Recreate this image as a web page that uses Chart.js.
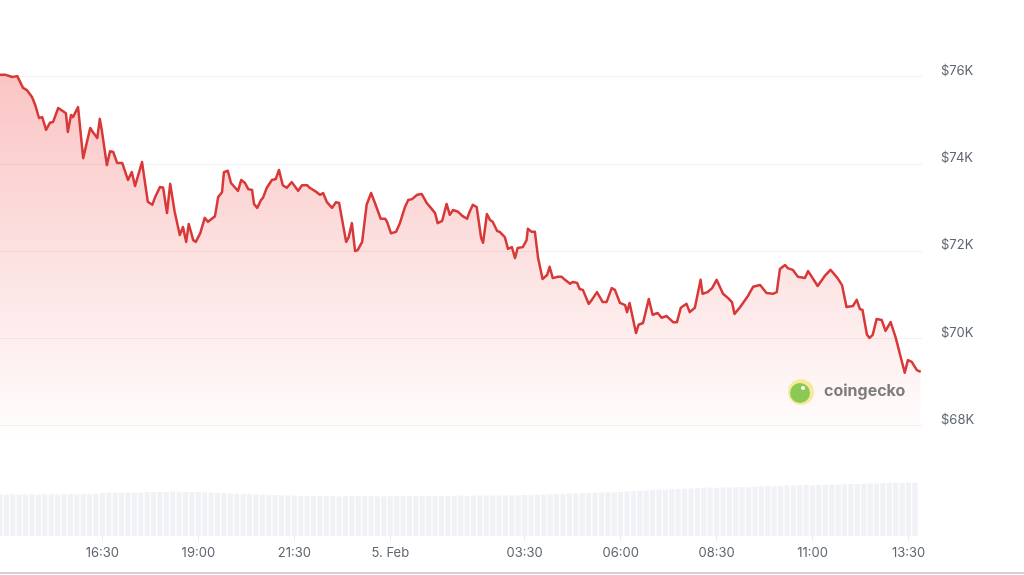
<!DOCTYPE html>
<html>
<head>
<meta charset="utf-8">
<script src="https://cdn.jsdelivr.net/npm/chart.js@4.4.1/dist/chart.umd.min.js"></script>
<style>
  html, body { margin: 0; padding: 0; background: #fff; }
  #wrap { position: relative; width: 1024px; height: 575px; }
  #edge { position: absolute; left: 0; top: 572px; width: 1024px; height: 2px; background: #d2d2d2; }
</style>
</head>
<body>
<div id="wrap">
  <canvas id="myChart" width="1024" height="575"></canvas>
  <div id="edge"></div>
</div>
<script>
// minuti dall'inizio (13:50 del 4 feb) e prezzo BTC in USD
const priceMinutes = [
  0, 9, 19, 27, 36, 42, 50, 55, 61, 66, 72, 78, 83, 91, 98, 103, 106, 111, 114, 122,
  130, 141, 145, 152, 156, 159, 167, 172, 177, 183, 191, 200, 206, 211, 222, 231, 238,
  242, 250, 255, 261, 266, 273, 281, 286, 291, 295, 302, 306, 313, 320, 325, 336, 341,
  347, 350, 356, 361, 372, 377, 383, 388, 394, 397, 402, 408, 411, 417, 425, 431, 436,
  442, 448, 456, 466, 472, 480,
  484, 495, 500, 505, 511, 519, 525, 530, 541, 545, 550, 555, 559, 566, 573, 580, 586,
  595, 602, 605, 611, 619, 625, 633, 638, 644, 652, 659, 667, 675, 680, 684, 691, 698,
  703, 708, 716, 723, 730, 734,
  739, 745, 752, 755, 761, 766, 770, 777, 781, 789, 794, 800, 805, 809, 817, 823, 825,
  831, 836, 841, 848, 855, 859, 864, 872, 878, 883, 891, 895, 902, 906, 911, 920, 925,
  933, 942, 948, 956, 961, 969,
  977, 980, 984, 994, 998, 1005, 1014, 1020, 1028, 1034, 1042, 1052, 1058, 1064, 1073,
  1078, 1086, 1095, 1098, 1106, 1113, 1120, 1130, 1138, 1144, 1148, 1156, 1169, 1177,
  1188, 1198, 1208, 1214, 1219,
  1227, 1231, 1239, 1247, 1258, 1263, 1278, 1289, 1298, 1309, 1316, 1323, 1333, 1339,
  1344, 1348, 1355, 1359, 1364, 1370, 1378, 1384, 1392, 1400, 1414, 1419, 1425, 1433, 1439
];
const prices = [
  76050, 76050, 76000, 76020, 75750, 75700, 75540, 75360, 75060, 75080, 74790, 74950, 74970, 75290, 75220, 75170, 74740, 75130, 75080, 75310,
  74140, 74830, 74740, 74600, 75040, 74790, 73980, 74300, 74280, 74030, 74030, 73640, 73820, 73500, 74050, 73140, 73070,
  73230, 73480, 73460, 72880, 73550, 72910, 72380, 72560, 72220, 72630, 72260, 72220, 72420, 72770, 72680, 72810, 73250,
  73360, 73820, 73850, 73570, 73390, 73640, 73570, 73430, 73410, 73090, 73000, 73180, 73230, 73460, 73640, 73660, 73870,
  73520, 73460, 73590, 73390, 73520, 73520,
  73460, 73360, 73300, 73340, 73130, 73000, 73130, 73110, 72220, 72330, 72650, 72010, 72030, 72220, 73070, 73340, 73110,
  72750, 72750, 72680, 72420, 72450, 72650, 73020, 73180, 73200, 73300, 73320, 73110, 72970, 72880, 72650, 72700, 73090,
  72840, 72950, 72910, 72810, 72750, 72910,
  73070, 73020, 72310, 72200, 72860, 72720, 72680, 72470, 72450, 72330, 72060, 72100, 71850, 72080, 72100, 72260, 72520,
  72450, 72450, 71850, 71370, 71460, 71650, 71390, 71420, 71420, 71350, 71260, 71300, 71280, 71140, 71120, 70800, 70890,
  71070, 70840, 70840, 71160, 71120, 70820,
  70770, 70610, 70820, 70130, 70320, 70360, 70910, 70550, 70590, 70480, 70520, 70380, 70380, 70710, 70800,
  70610, 70710, 71350, 71030, 71070, 71160, 71350, 71030, 70930, 70840, 70570, 70710, 70980, 71190,
  71230, 71050, 71030, 71070, 71600,
  71690, 71620, 71580, 71420, 71390, 71550, 71210, 71440, 71580, 71390, 71230, 70730, 70750, 70890,
  70680, 70660, 70090, 70020, 70090, 70450, 70430, 70180, 70380, 70020, 69220, 69510, 69470, 69280, 69240
];

// volume 24h (miliardi USD), una barra ogni 10 minuti
const volumes = [
  41.2, 41.0, 41.3, 41.1, 41.4, 41.2, 41.0, 41.3, 41.5, 41.2, 41.4, 41.6, 41.3, 41.5, 41.8, 42.0,
  42.6, 43.0, 42.8, 43.1, 43.3, 43.0, 43.2, 43.5, 43.8, 44.0, 43.7, 44.1, 44.0, 43.8, 43.6, 43.9, 43.4, 43.0, 42.8, 42.5,
  42.3, 42.0, 41.8, 41.6, 41.2, 41.0, 40.8, 40.6, 40.3, 40.1, 40.0,
  39.8, 39.6, 39.5, 39.7, 39.4, 39.5, 39.3, 39.6, 39.4, 39.5, 39.7, 39.6, 39.4, 39.3, 39.5, 39.6, 39.8,
  39.7, 39.5, 39.6, 39.9, 39.8, 40.0, 39.7, 39.9, 40.1, 39.8, 40.0, 40.2, 39.9, 40.1, 40.0, 40.3, 40.1,
  40.4, 40.6, 40.5, 40.9, 41.2, 41.4, 41.7,
  42.0, 42.3, 42.1, 42.5, 42.7, 42.9,
  43.2, 43.5, 43.3, 43.8, 44.2, 44.6, 45.0, 45.3,
  45.8, 46.1, 45.9, 46.3, 46.6, 46.9, 47.2, 47.5,
  47.8, 48.1, 47.9, 48.3, 48.0, 48.4, 48.7, 48.5, 49.0,
  49.3, 49.6, 49.4, 49.9, 50.2, 50.0, 50.4, 50.6, 50.3, 50.8, 51.0,
  51.2, 51.0, 51.4, 51.7, 51.5, 51.9, 52.2, 52.0,
  52.5, 52.8, 53.0, 52.7, 53.2, 53.0
];
const volumeStep = 10;

// etichette asse X
const tickMinutes = [160, 310, 460, 610, 820, 970, 1120, 1270, 1420];
const tickLabels = ['16:30', '19:00', '21:30', '5. Feb', '03:30', '06:00', '08:30', '11:00', '13:30'];
// etichette asse Y
const priceTicks = [68000, 70000, 72000, 74000, 76000];

const RED = '#d93838';
const FONT = "Inter, 'Noto Sans', sans-serif";

/* azzera i padding automatici delle scale */
function noPadding(s) {
  s.paddingLeft = 0; s.paddingRight = 0; s.paddingTop = 0; s.paddingBottom = 0;
}

/* watermark coingecko */
const watermark = {
  id: 'watermark',
  afterDatasetsDraw(chart) {
    const c = chart.ctx;
    c.save();
    c.fillStyle = 'rgba(246, 232, 140, 0.85)';
    c.beginPath(); c.arc(801, 392, 13, 0, Math.PI * 2); c.fill();
    c.fillStyle = '#8bc955';
    c.beginPath(); c.arc(800, 393, 10, 0, Math.PI * 2); c.fill();
    c.fillStyle = '#fff';
    c.beginPath(); c.arc(803, 388, 2, 0, Math.PI * 2); c.fill();
    c.fillStyle = '#7c7c7c';
    c.font = "bold 16px " + FONT;
    c.textBaseline = 'middle';
    c.fillText('coingecko', 824, 391);
    c.restore();
  }
};

const ctx = document.getElementById('myChart');

Chart.defaults.font.family = FONT;
Chart.defaults.font.size = 13;
Chart.defaults.color = '#5f6670';

new Chart(ctx, {
  type: 'line',
  data: {
    datasets: [{
      type: 'line',
      data: priceMinutes.map((t, i) => ({ x: t, y: prices[i] })),
      borderColor: RED,
      borderWidth: 2.5,
      borderJoinStyle: 'round',
      pointRadius: 0,
      tension: 0,
      fill: 'start',
      backgroundColor: (context) => {
        const g = context.chart.ctx.createLinearGradient(0, 60, 0, 445);
        g.addColorStop(0, 'rgba(240, 70, 70, 0.33)');
        g.addColorStop(1, 'rgba(240, 70, 70, 0)');
        return g;
      },
      yAxisID: 'y',
      order: 0
    }, {
      type: 'bar',
      data: volumes.map((v, i) => ({ x: i * volumeStep, y: v })),
      backgroundColor: '#f0f2f6',
      barThickness: 4.6,
      yAxisID: 'yv',
      order: 1
    }]
  },
  plugins: [watermark],
  options: {
    responsive: false,
    animation: false,
    layout: { padding: 0 },
    plugins: { legend: { display: false }, tooltip: { enabled: false } },
    scales: {
      x: {
        type: 'linear',
        offset: false,
        min: 0,
        max: 1441,
        afterBuildTicks: (s) => { s.ticks = tickMinutes.map(v => ({ value: v })); },
        afterFit: (s) => { s.height = 39; noPadding(s); },
        ticks: {
          autoSkip: false,
          maxRotation: 0,
          padding: 4,
          color: '#5f6670',
          callback: (v) => tickLabels[tickMinutes.indexOf(v)]
        },
        grid: { offset: false, drawOnChartArea: false, tickLength: 5, color: '#e9ebef' },
        border: { display: false }
      },
      y: {
        position: 'right',
        min: 65478,
        max: 77765,
        afterBuildTicks: (s) => { s.ticks = priceTicks.map(v => ({ value: v })); },
        afterFit: (s) => { s.width = 102; noPadding(s); },
        ticks: {
          padding: 19,
          labelOffset: -6,
          color: '#5f6670',
          callback: (v) => '$' + (v / 1000) + 'K'
        },
        grid: { color: '#f1f1f1', drawTicks: false },
        border: { display: false }
      },
      yv: {
        display: false,
        min: 0,
        max: 536
      }
    }
  }
});
</script>
</body>
</html>
